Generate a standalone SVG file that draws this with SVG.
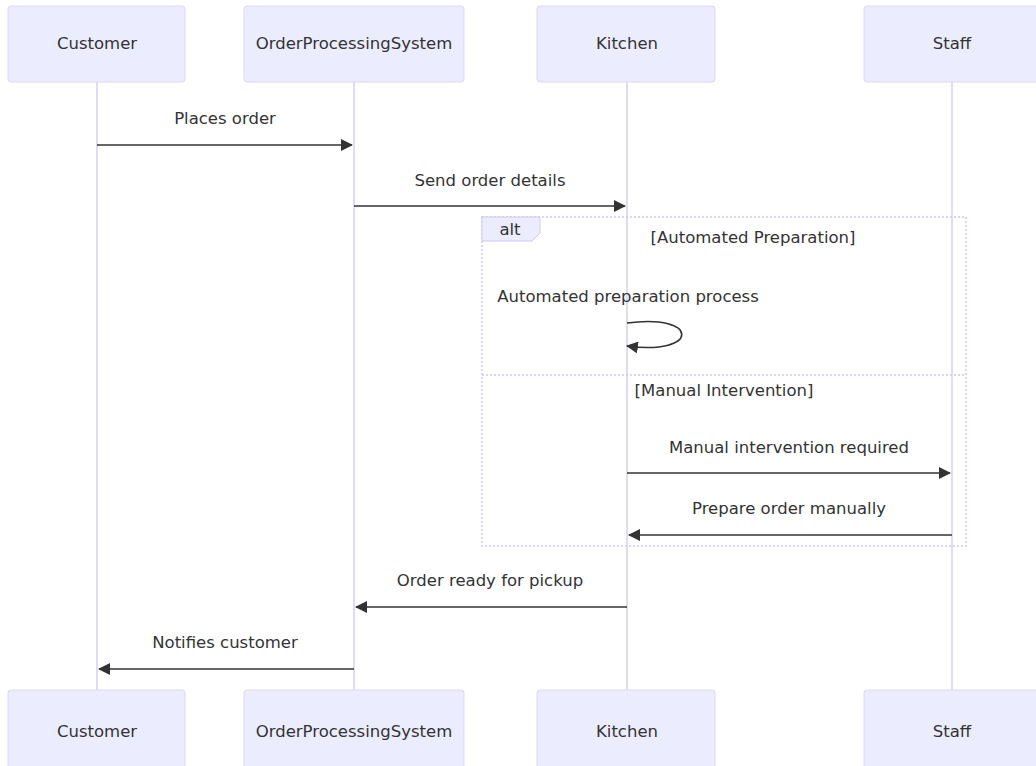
<svg xmlns="http://www.w3.org/2000/svg" width="1036" height="766" viewBox="0 0 1036 766">
<style>
.actor{fill:#ECECFF;stroke:#DCD6F7;stroke-width:1}
.life{stroke:#D6CFF4;stroke-width:1.5}
.t{font-family:"DejaVu Sans",Verdana,sans-serif;font-size:16.5px;fill:#333;text-anchor:middle}
.msg{stroke:#333;stroke-width:1.6;fill:none}
.loop{stroke:#CFC8F2;stroke-width:1.5;stroke-dasharray:2,2;fill:none}
</style>
<defs>
<marker id="ah" viewBox="0 0 12 12" refX="11" refY="6" markerWidth="12" markerHeight="12" markerUnits="userSpaceOnUse" orient="auto">
<path d="M0,0 L12,6 L0,12 z" fill="#333"/>
</marker>
</defs>
<rect width="1036" height="766" fill="#fff"/>
<g id="lifelines">
<line class="life" x1="97" y1="82" x2="97" y2="690"/>
<line class="life" x1="354" y1="82" x2="354" y2="690"/>
<line class="life" x1="627" y1="82" x2="627" y2="690"/>
<line class="life" x1="952" y1="82" x2="952" y2="690"/>
</g>
<g id="actor-customer-top"><rect class="actor" x="8" y="6" width="177" height="76" rx="3"/><text class="t" x="97" y="49">Customer</text></g>
<g id="actor-ops-top"><rect class="actor" x="244" y="6" width="220" height="76" rx="3"/><text class="t" x="354" y="49">OrderProcessingSystem</text></g>
<g id="actor-kitchen-top"><rect class="actor" x="537" y="6" width="178" height="76" rx="3"/><text class="t" x="627" y="49">Kitchen</text></g>
<g id="actor-staff-top"><rect class="actor" x="864" y="6" width="178" height="76" rx="3"/><text class="t" x="952" y="49">Staff</text></g>
<g id="actor-customer-bottom"><rect class="actor" x="8" y="690" width="177" height="80" rx="3"/><text class="t" x="97" y="737">Customer</text></g>
<g id="actor-ops-bottom"><rect class="actor" x="244" y="690" width="220" height="80" rx="3"/><text class="t" x="354" y="737">OrderProcessingSystem</text></g>
<g id="actor-kitchen-bottom"><rect class="actor" x="537" y="690" width="178" height="80" rx="3"/><text class="t" x="627" y="737">Kitchen</text></g>
<g id="actor-staff-bottom"><rect class="actor" x="864" y="690" width="178" height="80" rx="3"/><text class="t" x="952" y="737">Staff</text></g>
<g id="alt-frame">
<rect class="loop" x="482" y="217" width="484" height="329"/>
<line class="loop" x1="482" y1="375" x2="966" y2="375"/>
<path d="M482,217 L540,217 L540,233 L532,241 L482,241 Z" fill="#ECECFF" stroke="#CFC8F2" stroke-width="1"/>
<text class="t" x="510" y="235">alt</text>
<text class="t" x="753" y="243">[Automated Preparation]</text>
<text class="t" x="724" y="396">[Manual Intervention]</text>
</g>
<g id="connectors">
<text class="t" x="225" y="124">Places order</text>
<line class="msg" x1="97" y1="145" x2="352" y2="145" marker-end="url(#ah)"/>
<text class="t" x="490" y="186">Send order details</text>
<line class="msg" x1="354" y1="206" x2="625" y2="206" marker-end="url(#ah)"/>
<text class="t" x="628" y="302">Automated preparation process</text>
<path class="msg" d="M627,323 C700,313 700,356 627,346" marker-end="url(#ah)"/>
<text class="t" x="789" y="453">Manual intervention required</text>
<line class="msg" x1="627" y1="473" x2="950" y2="473" marker-end="url(#ah)"/>
<text class="t" x="789" y="514">Prepare order manually</text>
<line class="msg" x1="952" y1="535" x2="629" y2="535" marker-end="url(#ah)"/>
<text class="t" x="490" y="586">Order ready for pickup</text>
<line class="msg" x1="627" y1="607" x2="356" y2="607" marker-end="url(#ah)"/>
<text class="t" x="225" y="648">Notifies customer</text>
<line class="msg" x1="354" y1="669" x2="99" y2="669" marker-end="url(#ah)"/>
</g>
</svg>
